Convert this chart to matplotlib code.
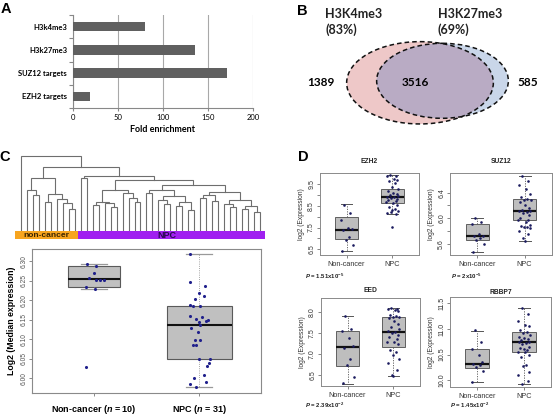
import matplotlib
matplotlib.use('Agg')
import matplotlib.pyplot as plt
from matplotlib.patches import Ellipse, Rectangle
import numpy as np

# ---------------- DATA ----------------
# Panel A
enrich_categories = ['H3k4me3', 'H3k27me3', 'SUZ12 targets', 'EZH2 targets']
enrich_values = [80, 136, 171, 19]
enrich_ticks = [0, 50, 100, 150, 200]

# Panel B (Venn)
venn_left_label = 'H3K4me3\n(83%)'
venn_right_label = 'H3K27me3\n(69%)'
venn_left_only = 1389
venn_overlap = 3516
venn_right_only = 585

# Panel C dendrogram: (height, left, right); ints are leaf indices
n_noncancer = 10
n_npc = 31
dendro_tree = (74.7, 0,
  (64.0,
    (53.0,
      (40.7, 1, (36.3, 2, 3)),
      (37.3, (29.0, 4, 5), (32.3, 6, (28.0, 7, (22.3, 8, 9))))),
    (55.5,
      (52.7, 10, 11),
      (50.7,
        (41.0,
          (29.3, (26.0, 12, 13), (27.7, 14, (24.3, 15, 16))),
          (37.7, 17, (32.7, 18, (29.3, 19, 20)))),
        (46.0,
          (41.0, (38.0, 21, 22),
                 (35.0, (31.0, 23, (27.0, 24, 25)),
                        (29.0, (25.0, 26, 27), (21.0, 28, 29)))),
          (39.0, (36.0, (33.0, 30, 31), (30.0, 32, 33)),
                 (31.0, (27.0, 34, (24.0, 35, 36)),
                        (25.0, (22.0, 37, 38), (19.0, 39, 40)))))))))

# Panel C boxplot
c_groups = ['Non-cancer', 'NPC']
c_ns = [10, 31]
c_nc_values = [6.294, 6.2875, 6.270, 6.258, 6.251, 6.251, 6.235, 6.230, 6.029, 6.252]
c_nc_jitter = [-0.073, 0.016, -0.003, -0.048, 0.016, 0.092, -0.079, 0.006, -0.079, 0.054]
c_npc_values = [6.318, 6.247, 6.237, 6.218, 6.211, 6.203, 6.189, 6.185, 6.186, 6.160, 6.158,
                6.151, 6.148, 6.150, 6.143, 6.137, 6.128, 6.119, 6.099, 6.099, 6.086, 6.086,
                6.049, 6.049, 6.038, 6.030, 6.009, 6.000, 5.991, 5.985, 5.977]
c_npc_jitter = [-0.09, -0.09, 0.054, 0.0, 0.048, -0.038, -0.089, -0.057, 0.006, -0.083, 0.029,
                -0.032, 0.070, 0.086, -0.003, 0.006, -0.073, -0.010, -0.038, 0.013, -0.057, -0.025,
                -0.003, 0.102, 0.095, 0.079, 0.044, -0.048, 0.070, -0.083, -0.025]
# box stats: q1, median, q3, lower whisker, upper whisker
c_box_stats = [(6.235, 6.254, 6.2875, 6.230, 6.294),
               (6.049, 6.137, 6.185, 5.977, 6.318)]
c_yticks = [6.00, 6.05, 6.10, 6.15, 6.20, 6.25, 6.30]

# Panel D
d_genes = ['EZH2', 'SUZ12', 'EED', 'RBBP7']
d_pvalues = [r'1.51x10$^{-5}$', r'2x10$^{-5}$', r'2.39x10$^{-2}$', r'1.45x10$^{-2}$']
d_nc_values = [
    [8.55, 8.15, 7.85, 7.50, 7.45, 7.38, 7.05, 6.95, 6.70, 6.41],
    [6.01, 5.95, 5.91, 5.76, 5.73, 5.72, 5.70, 5.67, 5.60, 5.48],
    [7.91, 7.60, 7.56, 7.39, 7.19, 7.14, 6.88, 6.74, 6.47, 6.31],
    [10.98, 10.75, 10.60, 10.50, 10.35, 10.32, 10.30, 10.25, 10.18, 9.97],
]
d_npc_values = [
    [9.91, 9.88, 9.85, 9.75, 9.68, 9.62, 9.55, 9.35, 9.26, 9.20, 9.10, 9.05, 9.00, 8.95, 8.90,
     8.89, 8.85, 8.82, 8.78, 8.72, 8.68, 8.64, 8.55, 8.45, 8.35, 8.30, 8.25, 8.15, 8.12, 8.20, 7.53],
    [6.66, 6.58, 6.52, 6.45, 6.38, 6.33, 6.30, 6.29, 6.28, 6.25, 6.20, 6.16, 6.13, 6.12, 6.11,
     6.10, 6.08, 6.05, 6.00, 5.98, 5.97, 5.95, 5.90, 5.88, 5.87, 5.86, 5.85, 5.80, 5.75, 5.70, 5.64],
    [8.09, 8.08, 8.06, 8.05, 8.02, 7.92, 7.90, 7.88, 7.87, 7.85, 7.78, 7.72, 7.65, 7.60, 7.55,
     7.53, 7.50, 7.45, 7.40, 7.35, 7.30, 7.28, 7.25, 7.10, 7.05, 6.98, 6.90, 6.80, 6.62, 6.50, 6.49],
    [11.42, 11.30, 11.15, 11.08, 11.05, 10.98, 10.95, 10.92, 10.88, 10.85, 10.82, 10.80, 10.78,
     10.75, 10.74, 10.72, 10.70, 10.65, 10.62, 10.58, 10.55, 10.54, 10.50, 10.45, 10.30, 10.28,
     10.15, 10.10, 9.98, 9.92, 10.60],
]
d_jitter = [-0.05, 0.08, -0.12, 0.03, 0.11, -0.08, 0.06, -0.02, 0.13, -0.10, 0.01, 0.09, -0.06,
            0.12, -0.11, 0.04, -0.03, 0.10, -0.09, 0.07, -0.13, 0.02, 0.11, -0.07, 0.05, -0.01,
            0.12, -0.12, 0.08, -0.04, 0.00]
d_box_stats = [
    [(6.97, 7.41, 7.99, 6.41, 8.58), (8.64, 8.89, 9.26, 8.12, 9.91)],
    [(5.657, 5.72, 5.906, 5.48, 6.01), (5.97, 6.11, 6.296, 5.64, 6.66)],
    [(6.73, 7.17, 7.54, 6.30, 7.91), (7.17, 7.53, 7.87, 6.48, 8.09)],
    [(10.23, 10.32, 10.60, 9.97, 10.97), (10.54, 10.74, 10.94, 9.92, 11.42)],
]
d_ylims = [(6.24, 10.02), (5.43, 6.71), (6.25, 8.33), (9.87, 11.62)]
d_yticks = [[6.5, 7.0, 7.5, 8.0, 8.5, 9.0, 9.5], [5.6, 5.8, 6.0, 6.2, 6.4],
            [6.5, 7.0, 7.5, 8.0], [10.0, 10.5, 11.0, 11.5]]
d_yticklabels = [['6.5', '', '7.5', '', '8.5', '', '9.5'], ['5.6', '', '6.0', '', '6.4'],
                 ['6.5', '7.0', '7.5', '8.0'], ['10.0', '10.5', '11.0', '11.5']]

# ---------------- FIGURE ----------------
plt.rcParams['mathtext.fontset'] = 'custom'
plt.rcParams['mathtext.it'] = 'Liberation Sans:italic:bold'
plt.rcParams['mathtext.rm'] = 'Liberation Sans:bold'
plt.rcParams['mathtext.bf'] = 'Liberation Sans:bold'

W, H = 557, 418
fig = plt.figure(figsize=(W / 100, H / 100), dpi=100)
ARIAL = 'Liberation Sans'
CAL = 'Lato'


def px_axes(x0, y0, x1, y1, **kw):
    return fig.add_axes([x0 / W, 1 - y1 / H, (x1 - x0) / W, (y1 - y0) / H], **kw)


# overlay for labels & venn (pixel coordinates)
ov = fig.add_axes([0, 0, 1, 1], zorder=-1)
ov.set_xlim(0, W)
ov.set_ylim(H, 0)
ov.axis('off')

for lab, (x, y) in zip('ABCD', [(6, 9), (302, 11), (5, 157), (303, 157)]):
    ov.text(x, y, lab, fontsize=10.5, fontweight='bold', family=ARIAL, ha='center', va='center')

# ---- Panel A ----
axA = px_axes(72.7, 15, 253, 108)
yy = np.arange(len(enrich_categories))
axA.barh(yy, enrich_values, height=0.4, color='#606060', zorder=3)
axA.set_xlim(0, 200)
axA.set_ylim(len(enrich_categories) - 0.5, -0.5)
axA.set_xticks(enrich_ticks)
axA.set_xticklabels([str(t) for t in enrich_ticks], fontsize=5.5, family=CAL)
axA.set_yticks(yy)
axA.set_yticklabels(enrich_categories, fontsize=5.5, family=CAL, fontweight='bold')
axA.set_yticks(np.arange(len(enrich_categories) + 1) - 0.5, minor=True)
axA.tick_params(axis='y', which='major', length=0, pad=4)
axA.tick_params(axis='y', which='minor', length=3, color='#888888', width=0.8)
axA.tick_params(axis='x', length=2, color='#888888', width=0.8, pad=2)
axA.grid(axis='x', color='#a8a8a8', lw=0.8)
axA.set_axisbelow(True)
for s in ['top', 'right']:
    axA.spines[s].set_visible(False)
for s in ['left', 'bottom']:
    axA.spines[s].set_color('#888888')
    axA.spines[s].set_linewidth(0.8)
axA.set_xlabel('Fold enrichment', fontsize=6.5, family=CAL, fontweight='bold', labelpad=3)

# ---- Panel B (Venn) ----
red = Ellipse((420, 82.8), 146.7, 82.3, fc='#eec8c8', ec='none')
blue = Ellipse((442.5, 80.8), 131.7, 75, fc='#c9d6e9', ec='none')
ov.add_patch(red)
ov.add_patch(blue)
inter = Ellipse((442.5, 80.8), 131.7, 75, fc='#b9abc4', ec='none')
ov.add_patch(inter)
inter.set_clip_path(red)
ov.add_patch(Ellipse((420, 82.8), 146.7, 82.3, fill=False, ec='#111111', lw=1.1, ls=(0, (3, 2))))
ov.add_patch(Ellipse((442.5, 80.8), 131.7, 75, fill=False, ec='#111111', lw=1.1, ls=(0, (3, 2))))
ov.text(325, 22, venn_left_label, fontsize=9, fontweight='bold', family=CAL, ha='left', va='center',
        linespacing=1.25, color='#222222')
ov.text(438, 22, venn_right_label, fontsize=9, fontweight='bold', family=CAL, ha='left', va='center',
        linespacing=1.25, color='#222222')
ov.text(321, 82, str(venn_left_only), fontsize=8.5, fontweight='bold', family=CAL, ha='center', va='center')
ov.text(415, 82, str(venn_overlap), fontsize=8.5, fontweight='bold', family=CAL, ha='center', va='center')
ov.text(527.5, 82, str(venn_right_only), fontsize=8.5, fontweight='bold', family=CAL, ha='center', va='center')

# ---- Panel C dendrogram ----
n_leaves = n_noncancer + n_npc
axD = px_axes(15, 154, 265, 231)
axD.set_xlim(-1.0, n_leaves - 0.16)
axD.set_ylim(0, 77)
axD.axis('off')


def draw_tree(ax, node):
    if isinstance(node, int):
        return float(node), 0.0
    h, l, r = node
    xl, hl = draw_tree(ax, l)
    xr, hr = draw_tree(ax, r)
    ax.plot([xl, xl, xr, xr], [hl, h, h, hr], color='#6e6e6e', lw=0.8, solid_joinstyle='miter')
    return (xl + xr) / 2, h


draw_tree(axD, dendro_tree)

axBar = px_axes(15, 231, 265, 239)
axBar.set_xlim(-1.0, n_leaves - 0.16)
axBar.set_ylim(0, 1)
axBar.axis('off')
axBar.add_patch(Rectangle((-1.0, 0), n_noncancer - 0.5 + 1.0, 1, fc='#f7a51f', ec='none'))
axBar.add_patch(Rectangle((n_noncancer - 0.5, 0), n_npc + 0.34, 1, fc='#a020f0', ec='none'))
axBar.text((n_noncancer - 1.5) / 2, 0.45, 'non-cancer', fontsize=6, fontweight='bold', family=ARIAL,
           ha='center', va='center', color='#3a2500')
axBar.text(n_noncancer + (n_npc - 1) / 2 - 0.5, 0.45, 'NPC', fontsize=6.5, fontweight='bold', family=ARIAL,
           ha='center', va='center', color='#2a0850')

# ---- Panel C boxplot ----
axC = px_axes(32, 249, 261, 393)


def make_stats(s):
    q1, med, q3, lo, hi = s
    return dict(q1=q1, med=med, q3=q3, whislo=lo, whishi=hi, fliers=[])


axC.bxp([make_stats(s) for s in c_box_stats], positions=[1, 2], widths=[0.5, 0.62],
        patch_artist=True, showfliers=False, capwidths=0.25,
        boxprops=dict(facecolor='#c0c0c0', edgecolor='#5a5a5a', lw=0.8),
        medianprops=dict(color='#111111', lw=1.5),
        whiskerprops=dict(color='#888888', lw=0.6, ls=':'),
        capprops=dict(color='#999999', lw=0.9))
axC.scatter(1 + np.array(c_nc_jitter), c_nc_values, s=5, color='#20208c', zorder=5, lw=0)
axC.scatter(2 + np.array(c_npc_jitter), c_npc_values, s=5, color='#20208c', zorder=5, lw=0)
axC.set_xlim(0.407, 2.59)
axC.set_ylim(5.962, 6.3315)
axC.set_yticks(c_yticks)
axC.set_yticklabels(['%.2f' % v for v in c_yticks], rotation=90, va='center', fontsize=4.8,
                    family=ARIAL, color='#555555')
axC.set_xticks([1, 2])
axC.set_xticklabels([r'%s ($n$ = %d)' % (g, n) for g, n in zip(c_groups, c_ns)], fontsize=6.5,
                    fontweight='bold', family=ARIAL)
axC.tick_params(axis='y', length=2, width=0.6, color='#777777', pad=1.5)
axC.tick_params(axis='x', length=2.5, width=0.6, color='#777777', pad=5)
for s in axC.spines.values():
    s.set_color('#8a8a8a')
    s.set_linewidth(0.8)
axC.set_ylabel('Log2 (Median expression)', fontsize=6.3, fontweight='bold', family=ARIAL, labelpad=3)

# ---- Panel D ----
d_boxes = [(320, 172.7, 419, 255), (450, 172.7, 552, 255), (321, 298, 420, 386), (450, 297.3, 551, 386.7)]
d_title_y = [161.7, 161.7, 290, 293]
d_p_pos = [(305, 276.7), (450.7, 276.7), (305, 405), (450, 405)]
for i, gene in enumerate(d_genes):
    x0, y0, x1, y1 = d_boxes[i]
    ax = px_axes(x0, y0, x1, y1)
    ax.bxp([make_stats(s) for s in d_box_stats[i]], positions=[1, 2], widths=0.5,
           patch_artist=True, showfliers=False, capwidths=0.25,
           boxprops=dict(facecolor='#bebebe', edgecolor='#606060', lw=0.7),
           medianprops=dict(color='#111111', lw=1.6),
           whiskerprops=dict(color='#555555', lw=0.6, ls=(0, (1.5, 1.5))),
           capprops=dict(color='#555555', lw=0.7))
    nc = d_nc_values[i]
    npc = d_npc_values[i]
    ax.scatter(1 + np.array(d_jitter[:len(nc)]), nc, s=3.5, color='#1a1a5e', zorder=5, lw=0)
    ax.scatter(2 + np.array(d_jitter[:len(npc)]), npc, s=3.5, color='#1a1a5e', zorder=5, lw=0)
    ax.set_xlim(0.42, 2.58)
    ax.set_ylim(*d_ylims[i])
    ax.set_yticks(d_yticks[i])
    ax.set_yticklabels(d_yticklabels[i], rotation=90, va='center', fontsize=5, family=ARIAL, color='#333333')
    ax.set_xticks([1, 2])
    ax.set_xticklabels(['Non-cancer', 'NPC'], fontsize=5.2, family=ARIAL, color='#333333')
    ax.tick_params(axis='y', length=2, width=0.5, color='#555555', pad=1.5)
    ax.tick_params(axis='x', length=2, width=0.5, color='#555555', pad=2.5)
    for s in ax.spines.values():
        s.set_color('#8a8a8a')
        s.set_linewidth(0.7)
    ax.set_ylabel('log2 (Expression)', fontsize=4.8, family=ARIAL, color='#333333', labelpad=2)
    ov.text((x0 + x1) / 2, d_title_y[i], gene, fontsize=4.8, fontweight='bold', family=ARIAL,
            ha='center', va='center', color='#222222')
    px, py = d_p_pos[i]
    ov.text(px, py, r'$P$ = ' + d_pvalues[i], fontsize=4.3, fontweight='bold', family=ARIAL,
            ha='left', va='center', color='#222222')

fig.savefig('out.png', dpi=100)
